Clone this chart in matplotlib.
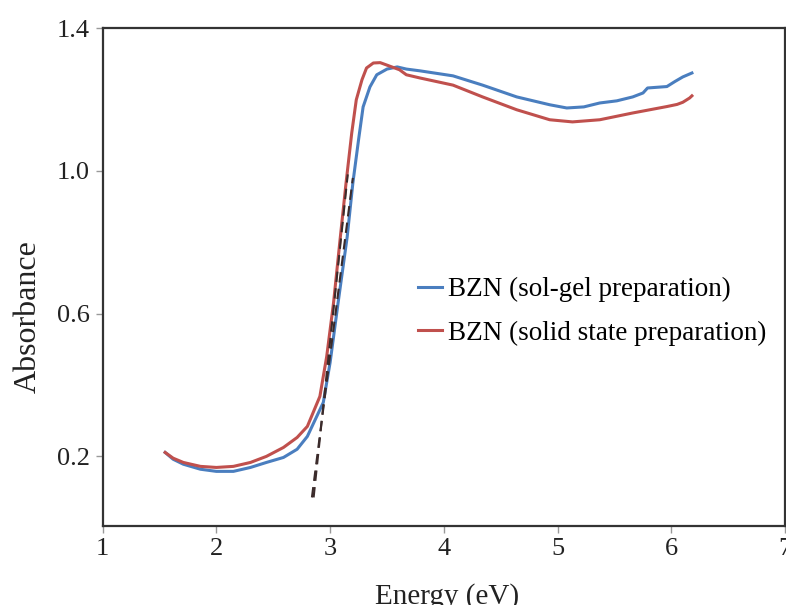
import numpy as np
import matplotlib.pyplot as plt

# Absorbance vs photon energy for the two BZN samples
energy_solgel = [1.55, 1.62, 1.71, 1.86, 2.0, 2.15, 2.30, 2.44, 2.59, 2.71, 2.80, 2.85,
                 2.94, 3.00, 3.07, 3.15, 3.20, 3.25, 3.29, 3.35, 3.41, 3.50, 3.59, 3.67,
                 3.79, 4.08, 4.34, 4.64, 4.93, 5.08, 5.23, 5.37, 5.52, 5.66, 5.75, 5.79,
                 5.96, 6.03, 6.10, 6.18]
abs_solgel = [0.211, 0.192, 0.178, 0.164, 0.158, 0.158, 0.169, 0.183, 0.197, 0.220, 0.256, 0.290,
              0.351, 0.463, 0.630, 0.815, 0.966, 1.087, 1.179, 1.235, 1.269, 1.285, 1.291, 1.285,
              1.280, 1.266, 1.240, 1.207, 1.185, 1.176, 1.179, 1.190, 1.196, 1.207, 1.218, 1.232,
              1.236, 1.250, 1.263, 1.274]

energy_solid = [1.55, 1.62, 1.71, 1.86, 2.0, 2.15, 2.30, 2.44, 2.59, 2.71, 2.80, 2.91,
                2.97, 3.03, 3.09, 3.14, 3.19, 3.23, 3.28, 3.32, 3.38, 3.44, 3.50, 3.61,
                3.67, 3.79, 4.08, 4.34, 4.64, 4.93, 5.13, 5.37, 5.66, 5.96, 6.05, 6.10,
                6.16, 6.18]
abs_solid = [0.211, 0.195, 0.183, 0.172, 0.169, 0.172, 0.183, 0.200, 0.225, 0.253, 0.284, 0.368,
             0.480, 0.630, 0.815, 0.966, 1.106, 1.199, 1.255, 1.288, 1.302, 1.303, 1.296, 1.283,
             1.269, 1.260, 1.240, 1.207, 1.171, 1.143, 1.137, 1.143, 1.162, 1.180, 1.186, 1.192,
             1.204, 1.210]

# band-edge extrapolation lines (start, end)
tangent_solid_x = [2.855, 3.155]
tangent_solid_y = [0.085, 0.99]
tangent_solgel_x = [2.84, 3.20]
tangent_solgel_y = [0.085, 0.98]

xticks = [1, 2, 3, 4, 5, 6, 7]
yticks = [0.2, 0.6, 1.0, 1.4]

plt.rcParams["font.family"] = ["Liberation Serif", "DejaVu Serif"]

fig = plt.figure(figsize=(7.86, 6.05), dpi=100)
ax = fig.add_axes([0.1305, 0.1306, 0.8685, 0.8231])

blue = "#4a7ebf"
red = "#c0504d"

ax.plot(energy_solgel, abs_solgel, color=blue, lw=2.2, label="BZN (sol-gel preparation)", zorder=2)
ax.plot(energy_solid, abs_solid, color=red, lw=2.2, label="BZN (solid state preparation)", zorder=2)
ax.plot(tangent_solid_x, tangent_solid_y, color="#3b2b2b", lw=1.5, dashes=(5, 3), zorder=3)
ax.plot(tangent_solgel_x, tangent_solgel_y, color="#3b2b2b", lw=1.5, dashes=(5, 3), zorder=3)

ax.set_xlim(1, 7)
ax.set_ylim(0.005, 1.4)
ax.set_xticks(xticks)
ax.set_yticks(yticks)
ax.set_yticklabels([f"{v:.1f}" for v in yticks])

for side in ["left", "bottom", "top", "right"]:
    ax.spines[side].set_linewidth(1.6)
    ax.spines[side].set_color("#333333")

ax.tick_params(direction="out", length=5, width=1, color="#999999",
               labelsize=19, labelcolor="#222222", pad=4)

ax.set_xlabel("Energy (eV)", fontsize=21, color="#222222")
ax.set_ylabel("Absorbance", fontsize=23, color="#222222")
ax.xaxis.set_label_coords(0.505, -0.115)
ax.yaxis.set_label_coords(-0.087, 0.42)

ax.legend(loc="upper left", bbox_to_anchor=(0.462, 0.50), frameon=False,
          fontsize=19.5, handlelength=0.9, handletextpad=0.22, labelspacing=0.68,
          borderaxespad=0, borderpad=0)

fig.savefig("out.png", dpi=100)
